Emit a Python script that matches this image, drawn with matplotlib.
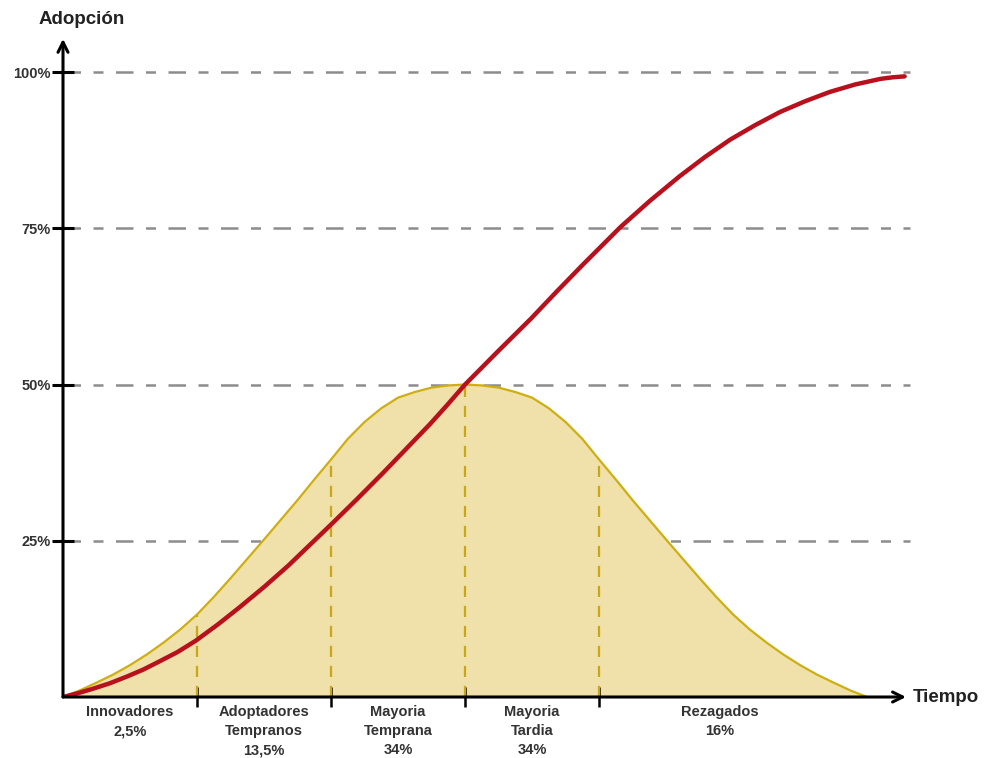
import matplotlib.pyplot as plt
import numpy as np

plt.rcParams['font.family'] = ['Liberation Sans', 'DejaVu Sans']

# bell curve (share of adopters)
bell_x = [0.0, 0.125, 0.25, 0.375, 0.5, 0.625, 0.75, 0.875, 1.0, 1.125, 1.25, 1.375,
          1.5, 1.625, 1.75, 1.875, 2.0, 2.125, 2.25, 2.375, 2.5, 2.625, 2.75, 2.875,
          3.0, 3.125, 3.25, 3.375, 3.5, 3.625, 3.75, 3.875, 4.0, 4.125, 4.25, 4.375,
          4.5, 4.625, 4.75, 4.875, 5.0, 5.125, 5.25, 5.375, 5.5, 5.625, 5.75, 5.875, 6.0]
bell_y = [0.0, 1.05, 2.3, 3.6, 5.1, 6.8, 8.7, 10.8, 13.2, 16.0, 19.0, 22.1,
          25.2, 28.35, 31.5, 34.8, 38.0, 41.3, 44.0, 46.2, 47.9, 48.8, 49.5, 49.85,
          50.0, 49.85, 49.5, 48.8, 47.9, 46.2, 44.0, 41.3, 38.0, 34.8, 31.5, 28.35,
          25.2, 22.1, 19.0, 16.0, 13.2, 10.8, 8.7, 6.8, 5.1, 3.6, 2.3, 1.05, 0.0]

# cumulative adoption (S curve)
adop_x = [0.0, 0.11, 0.22, 0.35, 0.48, 0.60, 0.72, 0.855, 0.99, 1.155, 1.32, 1.5,
          1.68, 1.845, 2.01, 2.2, 2.39, 2.565, 2.74, 2.87, 3.0, 3.245, 3.49, 3.685,
          3.88, 4.02, 4.16, 4.38, 4.60, 4.79, 4.98, 5.165, 5.35, 5.535, 5.72, 5.91,
          6.10, 6.19, 6.28]
adop_y = [0.0, 0.6, 1.3, 2.2, 3.3, 4.4, 5.7, 7.2, 9.0, 11.6, 14.4, 17.6,
          21.0, 24.4, 27.8, 31.8, 35.9, 39.8, 43.7, 46.8, 50.0, 55.3, 60.5, 64.9,
          69.2, 72.2, 75.2, 79.4, 83.3, 86.4, 89.2, 91.5, 93.6, 95.3, 96.8, 98.0,
          98.9, 99.15, 99.3]

bounds = [1, 2, 3, 4]
segment_edges = [0, 1, 2, 3, 4, 5.8]
segment_labels = ['Innovadores\n2,5%', 'Adoptadores\nTempranos\n13,5%',
                  'Mayoria\nTemprana\n34%', 'Mayoria\nTardia\n34%', 'Rezagados\n16%']
y_ticks = [25, 50, 75, 100]
y_labels = ['25%', '50%', '75%', '100%']

fig = plt.figure(figsize=(9.85, 7.58), dpi=100)
ax = fig.add_axes([63 / 985, 61 / 758, 851 / 985, 625 / 758])
ax.set_xlim(0, 6.35)
ax.set_ylim(0, 100)
for s in ax.spines.values():
    s.set_visible(False)

# grid lines
ax.hlines(y_ticks, 0, 6.32, colors='#8c8c8c', linestyles=(0, (7, 5, 4, 5)),
          lw=1.8, zorder=0, clip_on=False)

# bell
ax.fill_between(bell_x, bell_y, color='#f0e0aa', lw=0, zorder=1)
ax.plot(bell_x, bell_y, color='#cfae10', lw=1.6, zorder=2)
for b in bounds:
    top = np.interp(b, bell_x, bell_y)
    ax.plot([b, b], [0, top], color='#c9a818', lw=1.6,
            linestyle=(0, (5, 4)), zorder=2)

# S curve
ax.plot(adop_x, adop_y, color='#b8101c', lw=3.2, zorder=4,
        solid_capstyle='round', solid_joinstyle='round')

# axes with arrows
ax.annotate('', xy=(6.29, 0), xytext=(0, 0), annotation_clip=False,
            arrowprops=dict(arrowstyle='->', lw=2.2, color='black',
                            mutation_scale=18, shrinkA=0, shrinkB=0), zorder=5)
ax.annotate('', xy=(0, 105.3), xytext=(0, 0), annotation_clip=False,
            arrowprops=dict(arrowstyle='->', lw=2.2, color='black',
                            mutation_scale=18, shrinkA=0, shrinkB=0), zorder=5)

ax.set_yticks(y_ticks)
ax.set_yticklabels(y_labels, fontsize=10.5, fontweight='bold', color='#333333')
ax.tick_params(axis='y', direction='inout', length=16, width=2.2, pad=1)
ax.set_xticks(bounds)
ax.set_xticklabels([])
ax.tick_params(axis='x', direction='inout', length=14, width=1.8)

for i, lab in enumerate(segment_labels):
    mid = (segment_edges[i] + segment_edges[i + 1]) / 2
    ax.annotate(lab, xy=(mid, 0), xytext=(0, -6), textcoords='offset points',
                ha='center', va='top', fontsize=10.5, fontweight='bold',
                color='#333333', linespacing=1.45, annotation_clip=False)

ax.text(6.34, 0, 'Tiempo', fontsize=13.5, fontweight='bold', color='#222222',
        ha='left', va='center', clip_on=False)
fig.text(82 / 985, 1 - 20 / 758, 'Adopción', fontsize=13.5, fontweight='bold',
         color='#222222', ha='center', va='center')

fig.savefig('out.png', dpi=100)
